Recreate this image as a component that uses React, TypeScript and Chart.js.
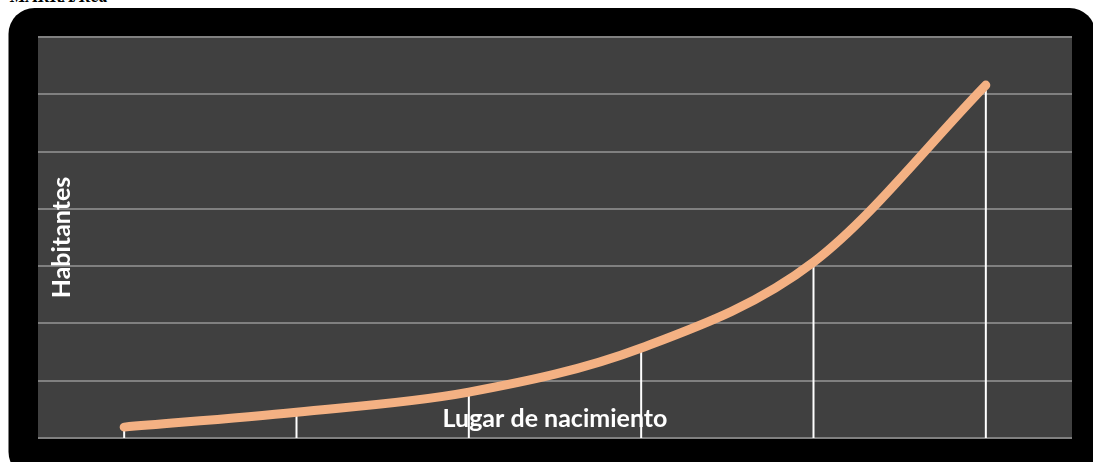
import React, { useEffect, useRef } from "react";
import { Chart, registerables } from "chart.js";

Chart.register(...registerables);

const categories = ["1", "2", "3", "4", "5", "6"];
const habitantes = [0.19, 0.45, 0.8, 1.57, 3.07, 6.16];
const yMin = 0;
const yMax = 7;
const yStep = 1;
const yTitle = "Habitantes";
const xTitle = "Lugar de nacimiento";
const topText = "MARKA/Red";

const framePlugin = {
  id: "frame",
  beforeDraw(chart: any) {
    const { ctx, chartArea } = chart;
    ctx.save();
    ctx.fillStyle = "#000000";
    ctx.beginPath();
    ctx.roundRect(8.5, 8, 1087, 470, 26);
    ctx.fill();
    ctx.fillStyle = "#404040";
    ctx.fillRect(chartArea.left, chartArea.top, chartArea.right - chartArea.left, chartArea.bottom - chartArea.top);
    ctx.restore();
  },
  beforeDatasetsDraw(chart: any) {
    const { ctx, chartArea } = chart;
    ctx.save();
    ctx.fillStyle = "#ffffff";
    ctx.font = 'bold 25px "Lato", "Open Sans", sans-serif';
    ctx.textAlign = "center";
    ctx.textBaseline = "middle";
    ctx.fillText(xTitle, (chartArea.left + chartArea.right) / 2, chartArea.bottom - 19);
    ctx.translate(chartArea.left + 24, (chartArea.top + chartArea.bottom) / 2);
    ctx.rotate(-Math.PI / 2);
    ctx.fillText(yTitle, 0, 0);
    ctx.restore();

    const meta = chart.getDatasetMeta(0);
    ctx.save();
    ctx.strokeStyle = "#ffffff";
    ctx.lineWidth = 2;
    meta.data.forEach((pt: any) => {
      ctx.beginPath();
      ctx.moveTo(pt.x, pt.y);
      ctx.lineTo(pt.x, chartArea.bottom);
      ctx.stroke();
    });
    ctx.restore();
  },
};

export default function App() {
  const ref = useRef<HTMLCanvasElement | null>(null);
  useEffect(() => {
    if (!ref.current) return;
    const chart = new Chart(ref.current, {
      type: "line",
      data: {
        labels: categories,
        datasets: [
          {
            data: habitantes,
            borderColor: "#F4B183",
            borderWidth: 9,
            borderCapStyle: "round",
            borderJoinStyle: "round",
            pointRadius: 0,
            cubicInterpolationMode: "monotone",
            fill: false,
          },
        ],
      },
      options: {
        animation: false,
        responsive: false,
        maintainAspectRatio: false,
        layout: { padding: { left: 38, top: 37, right: 21, bottom: 24 } },
        plugins: { legend: { display: false }, tooltip: { enabled: false }, title: { display: false } },
        scales: {
          x: {
            offset: true,
            grid: { display: false, drawTicks: false },
            border: { display: false },
            ticks: { display: false },
          },
          y: {
            min: yMin,
            max: yMax,
            ticks: { display: false, stepSize: yStep },
            grid: { color: "#808080", lineWidth: 2, drawTicks: false },
            border: { display: false },
          },
        },
      },
      plugins: [framePlugin],
    });
    return () => chart.destroy();
  }, []);
  return (
    <div style={{ position: "absolute", left: 0, top: 0, width: 1093, height: 462, overflow: "hidden", background: "#ffffff" }}>
      <div
        style={{
          position: "absolute",
          left: 10,
          top: -12,
          font: 'italic bold 18px "Liberation Serif", serif',
          lineHeight: "17px",
          color: "#000",
          whiteSpace: "nowrap",
        }}
      >
        {topText}
      </div>
      <canvas ref={ref} width={1093} height={462} style={{ position: "absolute", left: 0, top: 0, display: "block" }} />
    </div>
  );
}
